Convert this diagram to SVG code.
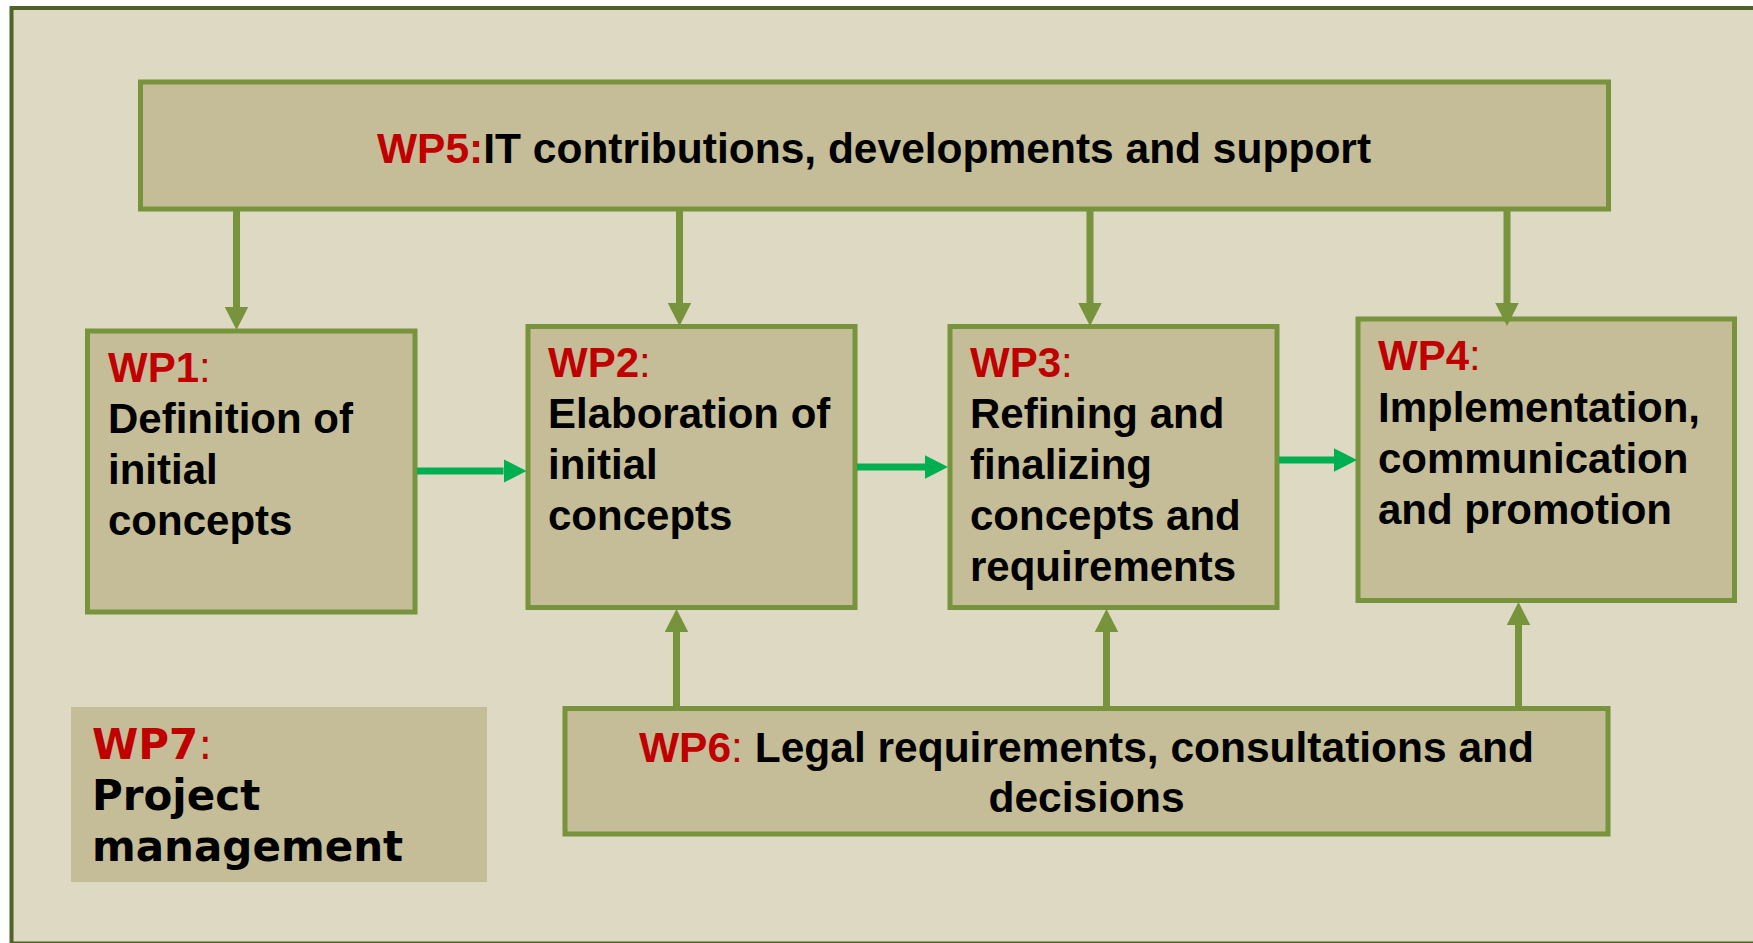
<svg xmlns="http://www.w3.org/2000/svg" width="1753" height="943" viewBox="0 0 1753 943">
<defs>
<style>
.box{fill:#c4bd97;stroke:#77933c;stroke-width:5}
.t{font-family:"Liberation Sans",Arial,sans-serif;font-weight:bold;font-size:42px;fill:#000}
.r{fill:#c00000}
.c{font-weight:normal}
.v{font-family:"DejaVu Sans",Verdana,sans-serif;font-weight:bold;font-size:42px;fill:#000}
.ol{stroke:#77933c;stroke-width:7;fill:none}
.gr{stroke:#00b050;stroke-width:7;fill:none}
</style>
<marker id="ho" markerUnits="userSpaceOnUse" markerWidth="23" markerHeight="24" refX="0" refY="11.75" orient="auto" viewBox="0 0 23 23.5"><path d="M0,0 L23,11.75 L0,23.5 z" fill="#77933c"/></marker>
<marker id="hg" markerUnits="userSpaceOnUse" markerWidth="23" markerHeight="24" refX="0" refY="11.75" orient="auto" viewBox="0 0 23 23.5"><path d="M0,0 L23,11.75 L0,23.5 z" fill="#00b050"/></marker>
</defs>
<rect x="0" y="0" width="1753" height="943" fill="#ffffff"/>
<rect id="frame" x="11.5" y="8" width="1800" height="935.5" fill="#ddd9c3" stroke="#4f6228" stroke-width="4"/>

<g id="wp5">
<rect class="box" x="140.5" y="82" width="1468" height="127"/>
<text class="t" x="874" y="162.5" text-anchor="middle" style="font-size:42.5px"><tspan class="r">WP5:</tspan>IT contributions, developments and support</text>
</g>

<g id="wp1">
<rect class="box" x="87.5" y="331" width="327.5" height="281"/>
<text class="t" x="108" y="382"><tspan class="r">WP1</tspan><tspan class="r c">:</tspan><tspan x="108" dy="51">Definition of</tspan><tspan x="108" dy="51">initial</tspan><tspan x="108" dy="51">concepts</tspan></text>
</g>

<g id="wp2">
<rect class="box" x="528" y="326.5" width="327" height="281"/>
<text class="t" x="548" y="377"><tspan class="r">WP2</tspan><tspan class="r c">:</tspan><tspan x="548" dy="51">Elaboration of</tspan><tspan x="548" dy="51">initial</tspan><tspan x="548" dy="51">concepts</tspan></text>
</g>

<g id="wp3">
<rect class="box" x="950" y="326.5" width="327" height="281"/>
<text class="t" x="970" y="377"><tspan class="r">WP3</tspan><tspan class="r c">:</tspan><tspan x="970" dy="51">Refining and</tspan><tspan x="970" dy="51">finalizing</tspan><tspan x="970" dy="51">concepts and</tspan><tspan x="970" dy="51">requirements</tspan></text>
</g>

<g id="wp4">
<rect class="box" x="1358" y="319" width="376.5" height="281.5"/>
<text class="t" x="1378" y="370"><tspan class="r">WP4</tspan><tspan class="r c">:</tspan><tspan x="1378" dy="51.5">Implementation,</tspan><tspan x="1378" dy="51">communication</tspan><tspan x="1378" dy="51">and promotion</tspan></text>
</g>

<g id="wp6">
<rect class="box" x="565" y="708.5" width="1043" height="125.5"/>
<text class="t" x="1086.5" y="761.5" text-anchor="middle" style="font-size:42.5px"><tspan class="r">WP6</tspan><tspan class="r c">:</tspan> Legal requirements, consultations and<tspan x="1086.5" dy="50">decisions</tspan></text>
</g>

<g id="wp7">
<rect x="71" y="707" width="416" height="175" fill="#c4bd97"/>
<text class="v" x="92" y="759"><tspan class="r">WP7</tspan><tspan class="r" font-weight="normal">:</tspan><tspan x="92" dy="51">Project</tspan><tspan x="92" dy="51">management</tspan></text>
</g>

<g id="connectors">
<line class="ol" x1="236.5" y1="209" x2="236.5" y2="307" marker-end="url(#ho)"/>
<line class="ol" x1="679.5" y1="209" x2="679.5" y2="303" marker-end="url(#ho)"/>
<line class="ol" x1="1090" y1="209" x2="1090" y2="303" marker-end="url(#ho)"/>
<line class="ol" x1="1507" y1="209" x2="1507" y2="303" marker-end="url(#ho)"/>
<line class="gr" x1="417" y1="471" x2="503.5" y2="471" marker-end="url(#hg)"/>
<line class="gr" x1="857" y1="467" x2="925" y2="467" marker-end="url(#hg)"/>
<line class="gr" x1="1279" y1="460" x2="1334" y2="460" marker-end="url(#hg)"/>
<line class="ol" x1="676.5" y1="708" x2="676.5" y2="632" marker-end="url(#ho)"/>
<line class="ol" x1="1106.5" y1="708" x2="1106.5" y2="632" marker-end="url(#ho)"/>
<line class="ol" x1="1518.5" y1="708" x2="1518.5" y2="625" marker-end="url(#ho)"/>
</g>
</svg>
